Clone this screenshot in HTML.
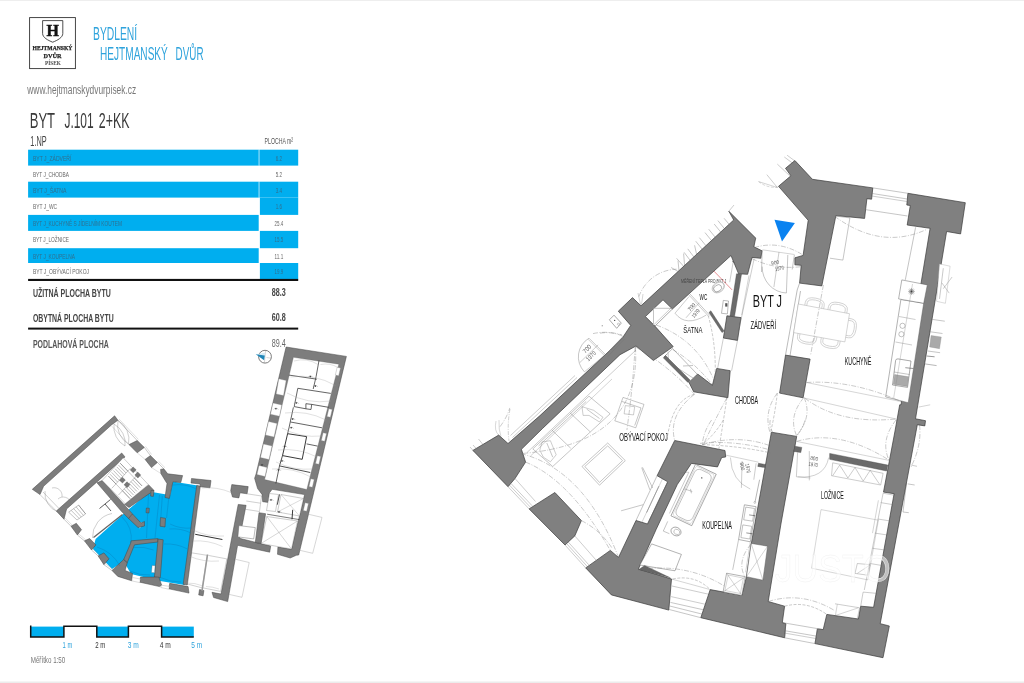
<!DOCTYPE html>
<html lang="cs"><head><meta charset="utf-8"><title>BYT J.101 2+KK – Bydlení Hejtmanský dvůr</title>
<style>
html,body{margin:0;padding:0;background:#fff;}
body{width:1024px;height:683px;overflow:hidden;position:relative;font-family:"Liberation Sans",sans-serif;}
svg{position:absolute;left:0;top:0;display:block;will-change:transform;}
svg text{font-family:"Liberation Sans",sans-serif;}
.serif{font-family:"Liberation Serif",serif !important;}
</style></head><body>
<svg width="1024" height="683" viewBox="0 0 1024 683">
<rect x="0" y="0" width="1024" height="683" fill="#ffffff"/>
<rect x="0" y="0" width="1024" height="1" fill="#eeeeee"/>
<rect x="0" y="681.5" width="1024" height="1.5" fill="#ececec"/>
<g id="logo">
<rect x="29.6" y="17.6" width="45.8" height="51" fill="#fff" stroke="#333" stroke-width="0.9"/>
<path d="M42.6 20.6 H62.8 V33.5 C62.8 37.5 57.5 40.3 52.7 42.2 C47.9 40.3 42.6 37.5 42.6 33.5 Z" fill="#fff" stroke="#222" stroke-width="0.8"/>
<text x="52.7" y="35.7" font-size="17.6" textLength="12.4" lengthAdjust="spacingAndGlyphs" text-anchor="middle" font-weight="bold" fill="#111" class="serif" stroke="#111" stroke-width="0.5">H</text>
<text x="52.5" y="50.4" font-size="6.3" textLength="39.8" lengthAdjust="spacingAndGlyphs" text-anchor="middle" font-weight="bold" fill="#222" class="serif" stroke="#222" stroke-width="0.25">HEJTMANSKÝ</text>
<text x="52.6" y="58.0" font-size="7.0" textLength="18.0" lengthAdjust="spacingAndGlyphs" text-anchor="middle" font-weight="bold" fill="#222" class="serif" stroke="#222" stroke-width="0.25">DVŮR</text>
<text x="53.0" y="64.5" font-size="5.2" textLength="15.8" lengthAdjust="spacingAndGlyphs" text-anchor="middle" font-weight="bold" fill="#444" class="serif">PÍSEK</text>
</g>
<text x="93.0" y="39.8" font-size="17.7" textLength="44.2" lengthAdjust="spacingAndGlyphs" fill="#2ea3dc">BYDLENÍ</text>
<text y="59.8" font-size="17.7" fill="#2ea3dc"><tspan x="100.1" textLength="67.7" lengthAdjust="spacingAndGlyphs">HEJTMANSKÝ</tspan> <tspan x="175.6" textLength="27.9" lengthAdjust="spacingAndGlyphs">DVŮR</tspan></text>
<text x="27.3" y="94.0" font-size="12.1" textLength="108.8" lengthAdjust="spacingAndGlyphs" fill="#777">www.hejtmanskydvurpisek.cz</text>
<text y="127.9" font-size="22.5" fill="#3a3a3a"><tspan x="29.7" textLength="25.1" lengthAdjust="spacingAndGlyphs">BYT</tspan> <tspan x="64.4" textLength="29.3" lengthAdjust="spacingAndGlyphs">J.101</tspan> <tspan x="98.8" textLength="30.6" lengthAdjust="spacingAndGlyphs">2+KK</tspan></text>
<text x="30.3" y="146.2" font-size="14.4" textLength="16.3" lengthAdjust="spacingAndGlyphs" fill="#444">1.NP</text>
<text x="264.6" y="143.6" font-size="8.7" textLength="28.5" lengthAdjust="spacingAndGlyphs" fill="#555">PLOCHA m²</text>
<rect x="28.1" y="149.7" width="230.6" height="15.9" fill="#00aeef"/>
<rect x="259.9" y="149.7" width="38.3" height="15.9" fill="#00aeef"/>
<rect x="258.7" y="149.7" width="1.2" height="15.9" fill="#4fc6f3"/>
<text x="32.9" y="160.8" font-size="7.6" textLength="38.5" lengthAdjust="spacingAndGlyphs" fill="#2f6f8f">BYT J_ZÁDVEŘÍ</text>
<text x="278.9" y="160.8" font-size="7.6" textLength="6.3" lengthAdjust="spacingAndGlyphs" text-anchor="middle" fill="#2f6f8f">6.2</text>
<text x="32.9" y="176.7" font-size="7.6" textLength="36.0" lengthAdjust="spacingAndGlyphs" fill="#666">BYT J_CHODBA</text>
<text x="278.9" y="176.7" font-size="7.6" textLength="6.3" lengthAdjust="spacingAndGlyphs" text-anchor="middle" fill="#666">5.2</text>
<rect x="28.1" y="181.7" width="230.6" height="15.9" fill="#00aeef"/>
<rect x="259.9" y="181.7" width="38.3" height="15.9" fill="#00aeef"/>
<rect x="258.7" y="181.7" width="1.2" height="15.9" fill="#4fc6f3"/>
<text x="32.9" y="192.8" font-size="7.6" textLength="33.6" lengthAdjust="spacingAndGlyphs" fill="#2f6f8f">BYT J_ŠATNA</text>
<text x="278.9" y="192.8" font-size="7.6" textLength="6.3" lengthAdjust="spacingAndGlyphs" text-anchor="middle" fill="#2f6f8f">3.4</text>
<rect x="259.9" y="197.6" width="38.3" height="17.3" fill="#00aeef"/>
<text x="32.9" y="208.7" font-size="7.6" textLength="24.2" lengthAdjust="spacingAndGlyphs" fill="#666">BYT J_WC</text>
<text x="278.9" y="208.7" font-size="7.6" textLength="6.3" lengthAdjust="spacingAndGlyphs" text-anchor="middle" fill="#2f6f8f">1.6</text>
<rect x="28.1" y="214.9" width="230.6" height="16.0" fill="#00aeef"/>
<text x="32.9" y="226.0" font-size="7.6" textLength="89.0" lengthAdjust="spacingAndGlyphs" fill="#2f6f8f">BYT J_KUCHYNĚ S JÍDELNÍM KOUTEM</text>
<text x="278.9" y="226.0" font-size="7.6" textLength="8.6" lengthAdjust="spacingAndGlyphs" text-anchor="middle" fill="#666">25.4</text>
<rect x="259.9" y="230.9" width="38.3" height="17.3" fill="#00aeef"/>
<text x="32.9" y="242.0" font-size="7.6" textLength="36.1" lengthAdjust="spacingAndGlyphs" fill="#666">BYT J_LOŽNICE</text>
<text x="278.9" y="242.0" font-size="7.6" textLength="8.6" lengthAdjust="spacingAndGlyphs" text-anchor="middle" fill="#2f6f8f">15.5</text>
<rect x="28.1" y="248.2" width="230.6" height="14.8" fill="#00aeef"/>
<text x="32.9" y="259.3" font-size="7.6" textLength="42.0" lengthAdjust="spacingAndGlyphs" fill="#2f6f8f">BYT J_KOUPELNA</text>
<text x="278.9" y="259.3" font-size="7.6" textLength="8.6" lengthAdjust="spacingAndGlyphs" text-anchor="middle" fill="#666">11.1</text>
<rect x="259.9" y="263.0" width="38.3" height="16.3" fill="#00aeef"/>
<text x="32.9" y="274.1" font-size="7.6" textLength="56.1" lengthAdjust="spacingAndGlyphs" fill="#666">BYT J_OBÝVACÍ POKOJ</text>
<text x="278.9" y="274.1" font-size="7.6" textLength="8.6" lengthAdjust="spacingAndGlyphs" text-anchor="middle" fill="#2f6f8f">19.9</text>
<rect x="28.1" y="278.9" width="270.1" height="2.1" fill="#111"/>
<rect x="28.1" y="327.6" width="270.1" height="2.0" fill="#111"/>
<text x="32.9" y="297.1" font-size="10.2" textLength="78.0" lengthAdjust="spacingAndGlyphs" font-weight="bold" fill="#444">UŽITNÁ PLOCHA BYTU</text>
<text x="32.9" y="321.7" font-size="10.2" textLength="80.8" lengthAdjust="spacingAndGlyphs" font-weight="bold" fill="#444">OBYTNÁ PLOCHA BYTU</text>
<text x="32.9" y="347.9" font-size="10.2" textLength="75.8" lengthAdjust="spacingAndGlyphs" font-weight="bold" fill="#555">PODLAHOVÁ PLOCHA</text>
<text x="271.8" y="296.4" font-size="10.2" textLength="14.0" lengthAdjust="spacingAndGlyphs" font-weight="bold" fill="#444">88.3</text>
<text x="271.8" y="321.0" font-size="10.2" textLength="14.0" lengthAdjust="spacingAndGlyphs" font-weight="bold" fill="#444">60.8</text>
<text x="271.8" y="347.4" font-size="10.2" textLength="14.0" lengthAdjust="spacingAndGlyphs" fill="#666">89.4</text>
<rect x="30.7" y="626.6" width="33.2" height="10.4" fill="#00aeef"/>
<rect x="96.8" y="626.6" width="31.6" height="10.4" fill="#00aeef"/>
<rect x="161.6" y="626.6" width="32.2" height="10.4" fill="#00aeef"/>
<path d="M30.7 625.6 V637 H63.9 V626.2 H96.8 V637 H128.4 V626.2 H161.6 V637 H193.8" fill="none" stroke="#111" stroke-width="1.5"/>
<text x="62.6" y="648.1" font-size="8.7" textLength="9.7" lengthAdjust="spacingAndGlyphs" fill="#2ea3dc">1 m</text>
<text x="95.2" y="648.1" font-size="8.7" textLength="10.2" lengthAdjust="spacingAndGlyphs" fill="#333">2 m</text>
<text x="127.8" y="648.1" font-size="8.7" textLength="11.0" lengthAdjust="spacingAndGlyphs" fill="#2ea3dc">3 m</text>
<text x="159.8" y="648.1" font-size="8.7" textLength="11.0" lengthAdjust="spacingAndGlyphs" fill="#333">4 m</text>
<text x="191.3" y="648.1" font-size="8.7" textLength="10.9" lengthAdjust="spacingAndGlyphs" fill="#2ea3dc">5 m</text>
<text x="30.7" y="663.1" font-size="8.9" textLength="34.6" lengthAdjust="spacingAndGlyphs" fill="#777">Měřítko 1:50</text>
<g id="mini" stroke-linejoin="miter">
<polygon points="95.6,538.9 124.0,513.5 140.0,528.0 136.0,541.0 126.0,560.0 112.0,569.0 93.0,549.0" fill="#00aeef" stroke="none" stroke-width="0"/>
<polygon points="172.5,481.5 197.5,485.5 184.5,585.0 160.0,581.0 131.0,574.0 123.0,560.0 131.0,541.0 140.0,528.0 144.5,521.0 148.7,493.0 153.5,492.2 165.0,494.3 170.0,495.0" fill="#00aeef" stroke="none" stroke-width="0"/>
<polygon points="128.5,509.5 149.5,492.0 148.8,507.0 144.5,523.0 138.0,522.0" fill="#00aeef" stroke="none" stroke-width="0"/>
<path d="M64.0 519.2 L71.0 526.2" fill="none" stroke="#777" stroke-width="0.4"/>
<path d="M65.2 518.1 L72.2 525.1" fill="none" stroke="#999" stroke-width="0.3"/>
<path d="M77.4 535.0 L84.4 540.8" fill="none" stroke="#777" stroke-width="0.4"/>
<path d="M78.6 533.9 L85.6 539.7" fill="none" stroke="#999" stroke-width="0.3"/>
<path d="M91.5 550.0 L98.1 555.9" fill="none" stroke="#777" stroke-width="0.4"/>
<path d="M92.7 548.9 L99.3 554.8" fill="none" stroke="#999" stroke-width="0.3"/>
<path d="M103.9 564.7 L112.0 570.5" fill="none" stroke="#777" stroke-width="0.4"/>
<path d="M105.1 563.6 L113.2 569.4" fill="none" stroke="#999" stroke-width="0.3"/>
<path d="M117.9 420.2 L137.2 440.5" fill="none" stroke="#777" stroke-width="0.4"/>
<path d="M119.1 419.1 L138.4 439.4" fill="none" stroke="#999" stroke-width="0.3"/>
<path d="M144.3 447.4 L150.4 455.6" fill="none" stroke="#777" stroke-width="0.4"/>
<path d="M145.5 446.3 L151.6 454.5" fill="none" stroke="#999" stroke-width="0.3"/>
<path d="M157.4 462.4 L163.8 468.8" fill="none" stroke="#777" stroke-width="0.4"/>
<path d="M158.6 461.3 L165.0 467.7" fill="none" stroke="#999" stroke-width="0.3"/>
<path d="M111.7 426.1 L129.0 444.6" fill="none" stroke="#999" stroke-width="0.3"/>
<path d="M137.2 452.8 L145.1 459.4" fill="none" stroke="#999" stroke-width="0.3"/>
<path d="M151.5 467.6 L160.9 473.5" fill="none" stroke="#999" stroke-width="0.3"/>
<polygon points="114.6,415.8 117.9,420.2 111.4,425.0 43.6,486.3 40.0,494.6 32.3,489.3" fill="#7d7d7d" stroke="#444" stroke-width="0.5"/>
<polygon points="56.3,511.0 121.7,453.0 125.0,456.9 66.6,509.0 64.0,519.2" fill="#7d7d7d" stroke="#444" stroke-width="0.5"/>
<polygon points="129.0,444.6 137.2,440.5 144.3,447.4 137.2,452.8" fill="#7d7d7d" stroke="#444" stroke-width="0.5"/>
<polygon points="145.1,459.4 150.4,455.6 157.4,462.4 151.5,467.6" fill="#7d7d7d" stroke="#444" stroke-width="0.5"/>
<polygon points="71.0,526.2 76.3,523.3 81.5,529.7 77.4,535.0" fill="#7d7d7d" stroke="#444" stroke-width="0.5"/>
<polygon points="84.4,540.8 89.7,538.5 95.9,544.9 91.5,550.0" fill="#7d7d7d" stroke="#444" stroke-width="0.5"/>
<polygon points="98.1,555.9 103.9,552.9 109.0,558.8 103.9,564.7" fill="#7d7d7d" stroke="#444" stroke-width="0.5"/>
<polygon points="112.0,570.5 123.7,559.5 127.3,562.5 125.1,570.5 132.5,573.4 131.7,580.8 117.8,576.4" fill="#7d7d7d" stroke="#444" stroke-width="0.5"/>
<polygon points="97.0,482.8 102.3,480.5 128.5,509.5 132.5,514.0 128.6,518.5 121.6,511.5" fill="#7d7d7d" stroke="#444" stroke-width="0.5"/>
<polygon points="124.5,504.2 148.7,484.9 154.0,490.4 129.0,507.5" fill="#7d7d7d" stroke="#444" stroke-width="0.5"/>
<polygon points="151.0,490.3 154.0,490.6 153.3,496.4 150.6,496.1" fill="#7d7d7d" stroke="#444" stroke-width="0.5"/>
<path d="M93.5 537.5 L122.5 514.5" fill="none" stroke="#666" stroke-width="1.3"/>
<polygon points="128.6,518.5 132.5,514.0 141.0,523.0 144.5,521.5 144.5,526.0 138.0,527.5" fill="#7d7d7d" stroke="#444" stroke-width="0.5"/>
<polygon points="123.7,559.5 130.5,543.5 131.0,540.8 157.9,538.6 157.9,542.0 134.5,544.8 127.3,562.5" fill="#7d7d7d" stroke="#444" stroke-width="0.5"/>
<polygon points="158.1,539.0 163.2,539.8 160.3,577.8 154.4,577.1" fill="#7d7d7d" stroke="#444" stroke-width="0.5"/>
<rect x="151.8" y="565.5" width="3" height="7" fill="#fff" stroke="#666" stroke-width="0.3" transform="rotate(5 153 569)"/>
<polygon points="160.5,517.5 165.5,518.3 165.0,527.0 160.0,526.2" fill="#7d7d7d" stroke="#444" stroke-width="0.5"/>
<polygon points="146.4,508.0 149.3,508.3 148.9,513.0 146.0,512.7" fill="#7d7d7d" stroke="#444" stroke-width="0.5"/>
<path d="M162.3 496.0 L160.8 518.0" fill="none" stroke="#0a77b5" stroke-width="0.35"/>
<path d="M168.8 497.5 L166.6 518.0" fill="none" stroke="#0a77b5" stroke-width="0.35"/>
<polygon points="160.6,469.4 163.8,468.8 167.7,473.8 182.6,475.6 180.8,482.6 172.9,481.7 169.4,498.4 165.0,497.5 167.0,483.5 160.9,473.5" fill="#7d7d7d" stroke="#444" stroke-width="0.5"/>
<polygon points="191.5,478.5 211.0,480.5 210.0,487.8 200.5,486.8 200.0,484.0 191.0,483.0" fill="#7d7d7d" stroke="#444" stroke-width="0.5"/>
<polygon points="196.7,485.5 200.3,486.0 187.3,585.0 183.2,584.3" fill="#7d7d7d" stroke="#444" stroke-width="0.5"/>
<polygon points="140.5,577.1 158.8,577.1 161.7,585.2 159.5,586.6 139.8,582.2" fill="#7d7d7d" stroke="#444" stroke-width="0.5"/>
<polygon points="169.7,583.3 188.1,586.6 189.0,593.1 168.8,588.8" fill="#7d7d7d" stroke="#444" stroke-width="0.5"/>
<polygon points="199.5,589.6 203.9,590.5 203.1,595.8 198.7,594.9" fill="#7d7d7d" stroke="#444" stroke-width="0.5"/>
<polygon points="212.0,592.3 221.0,594.0 238.2,504.4 246.1,505.3 239.6,538.3 270.7,546.1 269.7,552.2 237.6,545.3 227.7,601.6 213.6,597.5" fill="#7d7d7d" stroke="#444" stroke-width="0.5"/>
<polygon points="132.5,577.5 140.2,579.0 139.8,582.6 131.9,580.9" fill="#fff" stroke="#888" stroke-width="0.3"/>
<polygon points="161.5,585.2 169.3,586.4 168.8,589.2 160.8,587.5" fill="#fff" stroke="#888" stroke-width="0.3"/>
<path d="M190.8 552.7 L207.5 555.4 L202.2 587.9 L185.5 583.5" fill="none" stroke="#777" stroke-width="0.35"/>
<path d="M208.3 555.4 L226.8 558.9 L220.6 591.4 L203.1 587.9" fill="none" stroke="#777" stroke-width="0.35"/>
<path d="M207.5 554.5 L202.0 591.0" fill="none" stroke="#999" stroke-width="1.6"/>
<path d="M195.2 534.3 L222.4 539.5" fill="none" stroke="#333" stroke-width="1.0"/>
<polygon points="231.8,484.6 248.2,486.6 247.1,493.8 240.0,492.8 238.9,497.9 232.5,497.0 230.7,490.7" fill="#7d7d7d" stroke="#444" stroke-width="0.5"/>
<polygon points="286.1,347.0 346.4,356.4 298.7,555.0 296.3,555.3 290.2,558.0 277.5,554.3 277.9,547.1 291.5,549.3 304.6,494.6 272.2,489.3 269.3,493.0 268.6,502.5 262.7,501.7 262.0,494.4 257.6,488.6 254.6,478.3 256.1,473.9" fill="#7d7d7d" stroke="#444" stroke-width="0.5"/>
<polygon points="293.4,357.3 338.8,364.2 306.8,489.5 264.6,479.6" fill="#fff" stroke="#555" stroke-width="0.3"/>
<polygon points="281.0,494.5 303.5,498.5 299.5,516.0 277.5,512.0" fill="#fff" stroke="#555" stroke-width="0.3"/>
<polygon points="269.5,493.5 278.5,494.5 275.5,511.5 266.5,510.5" fill="#fff" stroke="#555" stroke-width="0.3"/>
<polygon points="266.8,516.5 297.5,521.0 291.5,549.0 261.0,543.5" fill="#fff" stroke="#555" stroke-width="0.3"/>
<path d="M266.8 516.5 L291.5 549.0" fill="none" stroke="#777" stroke-width="0.3"/>
<path d="M297.5 521.0 L261.0 543.5" fill="none" stroke="#777" stroke-width="0.3"/>
<path d="M281.0 494.5 L299.5 516.0" fill="none" stroke="#888" stroke-width="0.3"/>
<path d="M303.5 498.5 L277.5 512.0" fill="none" stroke="#888" stroke-width="0.3"/>
<polygon points="259.0,512.7 265.6,513.7 261.0,543.5 255.3,542.5" fill="#7d7d7d" stroke="#444" stroke-width="0.5"/>
<polygon points="238.9,525.6 255.3,527.6 253.7,538.9 237.9,536.9" fill="#fff" stroke="#555" stroke-width="0.4"/>
<polygon points="278.8,378.8 286.1,380.5 283.5,395.6 276.2,393.9" fill="#fff" stroke="#888" stroke-width="0.3"/>
<polygon points="273.0,403.0 281.7,405.0 279.5,416.2 270.5,414.2" fill="#fff" stroke="#888" stroke-width="0.3"/>
<polygon points="268.5,421.5 277.0,423.5 274.0,437.0 265.5,435.0" fill="#fff" stroke="#888" stroke-width="0.3"/>
<polygon points="263.5,444.0 272.0,446.0 269.0,459.5 260.5,457.5" fill="#fff" stroke="#888" stroke-width="0.3"/>
<polygon points="259.0,465.5 267.0,467.5 265.0,476.5 257.0,474.5" fill="#fff" stroke="#888" stroke-width="0.3"/>
<rect x="336.2" y="367.5" width="3.4" height="8" fill="#fff" stroke="#888" stroke-width="0.3" transform="rotate(13 337.8 371.5)"/>
<rect x="327.9" y="409" width="3.4" height="8" fill="#fff" stroke="#888" stroke-width="0.3" transform="rotate(13 329.5 413)"/>
<rect x="322.2" y="433" width="3.4" height="8" fill="#fff" stroke="#888" stroke-width="0.3" transform="rotate(13 323.8 437)"/>
<rect x="316.4" y="456" width="3.4" height="8" fill="#fff" stroke="#888" stroke-width="0.3" transform="rotate(13 318 460)"/>
<rect x="309.9" y="479" width="3.4" height="8" fill="#fff" stroke="#888" stroke-width="0.3" transform="rotate(13 311.5 483)"/>
<rect x="304.2" y="503" width="3.4" height="8" fill="#fff" stroke="#888" stroke-width="0.3" transform="rotate(13 305.8 507)"/>
<path d="M319.0 360.5 L316.1 376.6 L313.2 389.0" fill="none" stroke="#222" stroke-width="0.7"/>
<path d="M289.0 375.1 L316.9 379.2" fill="none" stroke="#222" stroke-width="0.7"/>
<path d="M330.8 393.4 L297.8 388.3 L294.2 406.6 L305.9 408.8 L305.9 403.7 L311.7 404.4 L311.0 409.5 L305.9 408.8" fill="none" stroke="#222" stroke-width="0.7"/>
<path d="M311.7 404.4 L328.6 407.3" fill="none" stroke="#222" stroke-width="0.7"/>
<path d="M293.4 407.3 L289.0 427.8 L287.6 433.7" fill="none" stroke="#222" stroke-width="0.7"/>
<path d="M290.5 422.0 L322.0 427.8" fill="none" stroke="#222" stroke-width="0.7"/>
<path d="M287.6 433.7 L306.6 436.6 L302.2 459.3 L282.5 455.6 L287.6 433.7" fill="none" stroke="#222" stroke-width="0.9"/>
<path d="M306.6 443.9 L317.6 446.1" fill="none" stroke="#222" stroke-width="0.7"/>
<path d="M282.5 455.6 L279.5 465.9 L310.3 472.5" fill="none" stroke="#222" stroke-width="0.8"/>
<path d="M279.5 465.9 L275.9 483.4" fill="none" stroke="#222" stroke-width="0.7"/>
<path d="M279.5 494.4 L277.3 504.7" fill="none" stroke="#222" stroke-width="0.8"/>
<path d="M292.7 509.8 L292.0 519.3" fill="none" stroke="#222" stroke-width="0.9"/>
<path d="M267.1 514.2 L299.3 519.6" fill="none" stroke="#222" stroke-width="0.6"/>
<path d="M308.1 377.2 A2.6 2.6 0 0 1 312.7 377.4" fill="none" stroke="#555" stroke-width="0.3"/><circle cx="310.3" cy="376.6" r="0.8" fill="#333"/>
<path d="M313.2 386.7 A2.6 2.6 0 0 1 317.8 386.9" fill="none" stroke="#555" stroke-width="0.3"/><circle cx="315.4" cy="386.1" r="0.8" fill="#333"/>
<path d="M294.2 403.6 A2.6 2.6 0 0 1 298.8 403.8" fill="none" stroke="#555" stroke-width="0.3"/><circle cx="296.4" cy="403.0" r="0.8" fill="#333"/>
<path d="M273.7 409.4 A2.6 2.6 0 0 1 278.3 409.6" fill="none" stroke="#555" stroke-width="0.3"/><circle cx="275.9" cy="408.8" r="0.8" fill="#333"/>
<path d="M290.5 419.7 A2.6 2.6 0 0 1 295.1 419.9" fill="none" stroke="#555" stroke-width="0.3"/><circle cx="292.7" cy="419.1" r="0.8" fill="#333"/>
<path d="M289.0 428.4 A2.6 2.6 0 0 1 293.6 428.6" fill="none" stroke="#555" stroke-width="0.3"/><circle cx="291.2" cy="427.8" r="0.8" fill="#333"/>
<path d="M282.5 447.1 A2.6 2.6 0 0 1 287.1 447.3" fill="none" stroke="#555" stroke-width="0.3"/><circle cx="284.7" cy="446.5" r="0.8" fill="#333"/>
<path d="M279.8 461.6 A2.6 2.6 0 0 1 284.4 461.8" fill="none" stroke="#555" stroke-width="0.3"/><circle cx="282.0" cy="461.0" r="0.8" fill="#333"/>
<path d="M276.3 470.6 A2.6 2.6 0 0 1 280.9 470.8" fill="none" stroke="#555" stroke-width="0.3"/><circle cx="278.5" cy="470.0" r="0.8" fill="#333"/>
<path d="M268.8 500.6 A2.6 2.6 0 0 1 273.4 500.8" fill="none" stroke="#555" stroke-width="0.3"/><circle cx="271.0" cy="500.0" r="0.8" fill="#333"/>
<path d="M276.8 512.6 A2.6 2.6 0 0 1 281.4 512.8" fill="none" stroke="#555" stroke-width="0.3"/><circle cx="279.0" cy="512.0" r="0.8" fill="#333"/>
<path d="M259.8 465.6 A2.6 2.6 0 0 1 264.4 465.8" fill="none" stroke="#555" stroke-width="0.3"/><circle cx="262.0" cy="465.0" r="0.8" fill="#333"/>
<path d="M247.1 493.8 L261.5 496.0 L259.5 511.5 L245.5 509.3" fill="none" stroke="#777" stroke-width="0.35"/>
<path d="M246.3 501.0 L260.5 503.2" fill="none" stroke="#777" stroke-width="0.35"/>
<path d="M308.6 514.3 L322.0 517.4 L312.7 553.3 L299.4 550.2" fill="none" stroke="#999" stroke-width="0.4"/>
<path d="M235.9 559.4 L249.2 562.5 L242.0 597.3 L228.7 594.3" fill="none" stroke="#999" stroke-width="0.4"/>
<polygon points="102.2,480.4 123.2,457.8 148.3,484.6 125.2,503.7" fill="#fff" stroke="#555" stroke-width="0.3"/>
<path d="M108.3 476.0 L115.9 483.9" fill="none" stroke="#444" stroke-width="0.35"/>
<path d="M122.5 490.8 L130.1 498.7" fill="none" stroke="#444" stroke-width="0.35"/>
<path d="M110.0 474.2 L117.6 482.1" fill="none" stroke="#444" stroke-width="0.35"/>
<path d="M124.2 488.9 L131.8 496.9" fill="none" stroke="#444" stroke-width="0.35"/>
<path d="M111.7 472.4 L119.3 480.3" fill="none" stroke="#444" stroke-width="0.35"/>
<path d="M125.9 487.1 L133.5 495.0" fill="none" stroke="#444" stroke-width="0.35"/>
<path d="M113.4 470.5 L121.0 478.4" fill="none" stroke="#444" stroke-width="0.35"/>
<path d="M127.6 485.3 L135.2 493.2" fill="none" stroke="#444" stroke-width="0.35"/>
<path d="M115.1 468.7 L122.7 476.6" fill="none" stroke="#444" stroke-width="0.35"/>
<path d="M129.3 483.5 L136.9 491.4" fill="none" stroke="#444" stroke-width="0.35"/>
<path d="M116.8 466.9 L124.4 474.8" fill="none" stroke="#444" stroke-width="0.35"/>
<path d="M131.0 481.6 L138.6 489.6" fill="none" stroke="#444" stroke-width="0.35"/>
<path d="M118.5 465.1 L126.1 473.0" fill="none" stroke="#444" stroke-width="0.35"/>
<path d="M132.7 479.8 L140.3 487.7" fill="none" stroke="#444" stroke-width="0.35"/>
<path d="M120.2 463.2 L127.8 471.1" fill="none" stroke="#444" stroke-width="0.35"/>
<path d="M134.4 478.0 L142.0 485.9" fill="none" stroke="#444" stroke-width="0.35"/>
<path d="M108.3 476.0 L130.1 498.7" fill="none" stroke="#444" stroke-width="0.3"/>
<path d="M120.2 463.2 L142.0 485.9" fill="none" stroke="#444" stroke-width="0.3"/>
<path d="M111.8 488.3 L130.5 468.2" fill="none" stroke="#444" stroke-width="0.3"/>
<path d="M118.4 495.1 L137.1 475.1" fill="none" stroke="#444" stroke-width="0.3"/>
<rect x="131.1" y="467.79999999999995" width="4.2" height="4.2" fill="#777" stroke="#444" stroke-width="0.3" transform="rotate(43 133.2 469.9)"/>
<rect x="135.70000000000002" y="472.9" width="4.2" height="4.2" fill="#777" stroke="#444" stroke-width="0.3" transform="rotate(43 137.8 475)"/>
<rect x="120.30000000000001" y="478.0" width="4.2" height="4.2" fill="#777" stroke="#444" stroke-width="0.3" transform="rotate(43 122.4 480.1)"/>
<rect x="124.9" y="482.59999999999997" width="4.2" height="4.2" fill="#777" stroke="#444" stroke-width="0.3" transform="rotate(43 127 484.7)"/>
<path d="M68.7 512.2 L77.0 520.0" fill="none" stroke="#555" stroke-width="0.35"/>
<path d="M71.2 510.4 L79.2 518.5" fill="none" stroke="#555" stroke-width="0.35"/>
<path d="M73.7 508.7 L81.3 517.0" fill="none" stroke="#555" stroke-width="0.35"/>
<path d="M76.1 506.9 L83.4 515.4" fill="none" stroke="#555" stroke-width="0.35"/>
<path d="M78.6 505.1 L85.6 513.9" fill="none" stroke="#555" stroke-width="0.35"/>
<path d="M68.7 512.2 L78.6 505.1 L85.6 513.9 L77.0 520.0" fill="none" stroke="#555" stroke-width="0.35"/>
<path d="M99.5 508.5 L110.5 499.5" fill="none" stroke="#333" stroke-width="0.8"/>
<path d="M105.0 504.0 L111.0 511.0" fill="none" stroke="#333" stroke-width="0.8"/>
<path d="M92.5 538.0 A24 24 0 0 1 112.0 513.5" fill="none" stroke="#777" stroke-width="0.35"/>
<path d="M118.0 420.5 A22 22 0 0 1 128.5 444.0" fill="none" stroke="#777" stroke-width="0.35"/>
<path d="M118.0 420.5 A22 22 0 0 0 128.5 444.0" fill="none" stroke="#777" stroke-width="0.35"/>
<path d="M114.0 424.0 A22 22 0 0 1 125.0 446.0" fill="none" stroke="#777" stroke-width="0.35"/>
<path d="M114.0 424.0 A22 22 0 0 0 125.0 446.0" fill="none" stroke="#777" stroke-width="0.35"/>
<path d="M45.0 491.0 A20 20 0 0 0 58.0 512.0" fill="none" stroke="#777" stroke-width="0.35"/>
<path d="M52.0 488.0 A8 8 0 0 1 62.0 497.0" fill="none" stroke="#777" stroke-width="0.35"/>
<path d="M58.0 499.0 A8 8 0 0 1 71.0 503.0" fill="none" stroke="#777" stroke-width="0.35"/>
<path d="M40.0 494.6 L56.3 511.0" fill="none" stroke="#888" stroke-width="0.4"/>
<path d="M43.0 492.0 L59.0 508.5" fill="none" stroke="#888" stroke-width="0.4"/>
<path d="M173.0 485.0 A40 40 0 0 1 195.5 488.5" fill="none" stroke="#0a77b5" stroke-width="0.35"/>
<path d="M170.0 524.0 A40 40 0 0 0 192.0 528.0" fill="none" stroke="#0a77b5" stroke-width="0.35"/>
<path d="M169.5 529.0 A40 40 0 0 1 191.0 533.0" fill="none" stroke="#0a77b5" stroke-width="0.35"/>
<path d="M164.0 544.0 A45 45 0 0 1 187.5 549.0" fill="none" stroke="#0a77b5" stroke-width="0.35"/>
<path d="M160.5 577.5 A45 45 0 0 0 181.0 582.0" fill="none" stroke="#0a77b5" stroke-width="0.35"/>
<path d="M134.0 547.5 A40 40 0 0 1 153.5 550.0" fill="none" stroke="#0a77b5" stroke-width="0.35"/>
<path d="M130.0 571.0 A40 40 0 0 0 150.0 575.0" fill="none" stroke="#0a77b5" stroke-width="0.35"/>
<path d="M97.0 547.0 A40 40 0 0 1 120.0 566.0" fill="none" stroke="#0a77b5" stroke-width="0.35"/>
<path d="M122.0 517.0 A30 30 0 0 1 131.0 543.0" fill="none" stroke="#0a77b5" stroke-width="0.35"/>
<path d="M148.5 494.0 L146.5 538.0" fill="none" stroke="#0a77b5" stroke-width="0.35"/>
<path d="M159.5 495.0 L155.0 538.0" fill="none" stroke="#0a77b5" stroke-width="0.35"/>
<path d="M294.0 361.0 A30 30 0 0 1 318.0 364.5" fill="none" stroke="#999" stroke-width="0.3"/>
<path d="M320.5 364.5 A25 25 0 0 1 338.0 367.5" fill="none" stroke="#999" stroke-width="0.3"/>
<path d="M290.5 377.0 A70 70 0 0 1 335.5 385.5" fill="none" stroke="#999" stroke-width="0.3"/>
<path d="M287.0 393.0 A70 70 0 0 0 331.0 401.0" fill="none" stroke="#999" stroke-width="0.3"/>
<path d="M285.0 413.0 A70 70 0 0 1 326.0 420.0" fill="none" stroke="#999" stroke-width="0.3"/>
<path d="M282.0 428.0 A70 70 0 0 0 322.0 436.0" fill="none" stroke="#999" stroke-width="0.3"/>
<path d="M278.0 450.0 A70 70 0 0 1 317.0 457.0" fill="none" stroke="#999" stroke-width="0.3"/>
<path d="M276.0 462.0 A70 70 0 0 0 313.0 469.0" fill="none" stroke="#999" stroke-width="0.3"/>
<path d="M272.0 469.0 A70 70 0 0 1 311.0 477.0" fill="none" stroke="#999" stroke-width="0.3"/>
<path d="M202.0 488.0 A60 60 0 0 1 231.0 492.5" fill="none" stroke="#999" stroke-width="0.3"/>
<path d="M193.0 530.0 A60 60 0 0 0 224.0 536.0" fill="none" stroke="#999" stroke-width="0.3"/>
<path d="M192.5 541.0 A60 60 0 0 1 222.5 546.5" fill="none" stroke="#999" stroke-width="0.3"/>
<path d="M189.0 556.0 A60 60 0 0 0 219.0 561.0" fill="none" stroke="#999" stroke-width="0.3"/>
<path d="M186.5 583.0 A40 40 0 0 1 203.0 586.0" fill="none" stroke="#999" stroke-width="0.3"/>
<path d="M206.0 586.5 A40 40 0 0 1 219.0 589.0" fill="none" stroke="#999" stroke-width="0.3"/>
</g>
<g id="compass">
<circle cx="265" cy="356.7" r="6.4" fill="#fff" stroke="#5a5a5a" stroke-width="0.8"/>
<path d="M265.6 350.5 L264.4 363.0" fill="none" stroke="#999" stroke-width="0.4"/>
<path d="M266.5 357.5 L271.2 358.2" fill="none" stroke="#999" stroke-width="0.4"/>
<path d="M255.7 354.3 L264.9 352.8 L264.8 355.6 Z" fill="#d5ebf6"/>
<path d="M255.7 354.3 L264.8 355.4 L264.1 360.2 Z" fill="#1f86b8"/>
</g>
<g id="main">
<polygon points="728.9,211.3 755.7,238.1 753.9,246.8 762.0,250.8 760.8,258.3 752.0,257.4 747.6,274.3 738.6,273.8 731.0,255.5 672.4,309.0 663.0,299.8 645.4,316.6 654.9,326.1 673.2,346.6 653.4,360.5 636.0,346.0 620.0,354.7 542.3,428.7 521.4,449.3 525.6,462.1 515.0,478.5 508.0,486.7 472.9,450.4 498.7,435.1 508.0,443.5 540.0,415.6 610.3,350.0 622.7,337.5 630.7,325.4 618.3,311.2 632.5,297.6 641.0,305.8 733.7,220.0" fill="#808080" stroke="#3a3a3a" stroke-width="0.7"/>
<polygon points="529.1,508.9 554.9,492.5 581.4,520.6 574.8,535.9 565.0,545.0" fill="#808080" stroke="#3a3a3a" stroke-width="0.7"/>
<polygon points="585.7,567.9 610.3,550.4 618.5,557.4 636.0,520.5 647.5,524.0 667.7,481.8 657.1,475.7 674.7,440.5 725.0,450.5 725.7,457.0 721.7,457.5 717.5,466.9 691.4,463.4 677.3,484.5 656.2,529.3 638.4,569.1 671.5,579.0 668.8,610.1 611.4,594.9" fill="#808080" stroke="#3a3a3a" stroke-width="0.7"/>
<path d="M657.1 475.7 L636.0 520.5" fill="none" stroke="#6a6a6a" stroke-width="0.4"/>
<polygon points="700.8,617.7 710.2,589.6 741.8,595.4 746.5,576.7 751.4,543.0 771.4,432.2 796.7,436.4 781.1,523.0 768.2,601.5 784.6,606.2 782.3,622.6 785.8,623.7 784.6,637.8" fill="#808080" stroke="#3a3a3a" stroke-width="0.7"/>
<polygon points="751.2,543.4 767.6,546.2 762.9,580.2 746.5,576.7" fill="#fff" stroke="#555" stroke-width="0.45"/>
<polygon points="815.0,643.6 817.4,628.9 823.2,629.6 826.8,614.4 858.4,619.0 860.7,606.2 873.6,607.3 894.1,493.7 883.5,492.1 895.2,430.0 899.7,404.8 901.0,404.8 930.1,228.3 907.2,225.0 910.3,205.5 906.8,205.0 907.9,193.3 965.3,202.7 960.6,233.9 946.6,231.5 915.5,418.8 925.5,420.7 924.8,425.9 917.3,424.7 880.2,623.7 889.3,626.1 883.0,657.7" fill="#808080" stroke="#3a3a3a" stroke-width="0.7"/>
<polygon points="778.5,186.3 790.9,175.8 785.5,168.3 794.9,160.5 812.4,179.3 872.8,187.9 871.6,199.2 866.9,198.7 864.6,218.4 835.9,215.6 821.8,285.9 799.6,283.1 801.2,265.3 794.9,264.8 794.9,257.8 803.1,255.4 808.2,220.3" fill="#808080" stroke="#3a3a3a" stroke-width="0.7"/>
<polygon points="726.9,315.8 741.0,317.6 737.5,340.4 723.4,338.0" fill="#808080" stroke="#3a3a3a" stroke-width="0.7"/>
<polygon points="687.8,380.1 697.9,374.2 712.4,385.3 716.7,368.4 730.2,370.7 727.9,397.7 693.7,391.8" fill="#808080" stroke="#3a3a3a" stroke-width="0.7"/>
<polygon points="736.5,273.8 741.5,274.2 734.5,316.5 730.0,316.0" fill="#6b6b6b" stroke="#444" stroke-width="0.4"/>
<polygon points="664.5,356.5 667.0,354.5 690.0,379.0 687.5,381.0" fill="#6b6b6b" stroke="#444" stroke-width="0.4"/>
<polygon points="709.0,312.5 710.8,310.8 724.0,331.0 722.0,332.5" fill="#6b6b6b" stroke="#444" stroke-width="0.4"/>
<polygon points="785.5,355.1 810.1,359.1 803.1,397.8 779.6,393.1" fill="#808080" stroke="#3a3a3a" stroke-width="0.7"/>
<path d="M785.5 355.1 L797.2 290.0 L799.6 283.1" fill="none" stroke="#6a6a6a" stroke-width="0.45"/>
<path d="M790.0 355.8 L800.5 291.0" fill="none" stroke="#6a6a6a" stroke-width="0.45"/>
<polygon points="829.7,453.4 887.8,465.1 886.6,471.0 829.7,459.3" fill="#6b6b6b" stroke="#444" stroke-width="0.4"/>
<polygon points="794.8,446.2 801.8,447.4 800.8,452.6 793.8,451.4" fill="#6b6b6b" stroke="#444" stroke-width="0.4"/>
<polygon points="758.5,463.3 765.5,464.5 764.8,467.6 757.8,466.4" fill="#6b6b6b" stroke="#444" stroke-width="0.4"/>
<polygon points="900.9,299.5 923.7,303.3 908.2,402.7 885.7,396.9" fill="#fff" stroke="#555" stroke-width="0.45"/>
<polygon points="901.8,279.9 927.3,284.9 923.7,303.3 898.6,298.9" fill="#fff" stroke="#555" stroke-width="0.45"/>
<path d="M915.6 227.3 L905.3 279.9" fill="none" stroke="#6a6a6a" stroke-width="0.4"/>
<polygon points="774.5,219.8 794.9,223.1 782.0,241.4" fill="#0a82f0" stroke="none" stroke-width="0"/>
<text x="752.7" y="306.5" font-size="16.7" textLength="29.3" lengthAdjust="spacingAndGlyphs" fill="#111">BYT J</text>
<text x="750.4" y="328.7" font-size="10.5" textLength="25.7" lengthAdjust="spacingAndGlyphs" fill="#111">ZÁDVEŘÍ</text>
<text x="735.1" y="403.6" font-size="10.5" textLength="23.0" lengthAdjust="spacingAndGlyphs" fill="#111">CHODBA</text>
<text x="844.7" y="364.6" font-size="10.5" textLength="26.6" lengthAdjust="spacingAndGlyphs" fill="#111">KUCHYNĚ</text>
<text x="821.0" y="498.6" font-size="10.5" textLength="22.7" lengthAdjust="spacingAndGlyphs" fill="#111">LOŽNICE</text>
<text x="702.3" y="528.9" font-size="10.5" textLength="29.7" lengthAdjust="spacingAndGlyphs" fill="#111">KOUPELNA</text>
<text x="619.3" y="440.9" font-size="10.5" textLength="48.4" lengthAdjust="spacingAndGlyphs" fill="#111">OBÝVACÍ POKOJ</text>
<text x="683.2" y="332.8" font-size="9.6" textLength="19.4" lengthAdjust="spacingAndGlyphs" fill="#111">ŠATNA</text>
<text x="699.6" y="300.0" font-size="9.6" textLength="7.7" lengthAdjust="spacingAndGlyphs" fill="#111">WC</text>
<text x="681.1" y="282.8" font-size="6.0" textLength="45.1" lengthAdjust="spacingAndGlyphs" fill="#444">MĚŘENÍ TEPLA PRO BYT J</text>
<path d="M589.0 396.2 L610.1 413.8 L552.7 466.5 L532.8 448.9 Z" fill="none" stroke="#6f6f6f" stroke-width="0.4"/>
<path d="M586.2 401.4 L538.6 445.9" fill="none" stroke="#6f6f6f" stroke-width="0.4"/>
<path d="M570.3 413.1 L590.2 431.8" fill="none" stroke="#6f6f6f" stroke-width="0.4"/>
<path d="M552.0 430.2 L570.7 448.2" fill="none" stroke="#6f6f6f" stroke-width="0.4"/>
<path d="M582.0 406.7 L593.7 410.3 L603.0 417.3 L599.5 422.0 L589.0 415.4 L583.1 415.4 Z" fill="none" stroke="#6f6f6f" stroke-width="0.35"/>
<path d="M542.2 441.9 L550.4 440.7 L556.2 454.8 L550.4 461.8 L543.3 457.1 L539.8 450.1 Z" fill="none" stroke="#6f6f6f" stroke-width="0.35"/>
<path d="M546.8 443.0 L552.7 457.1" fill="none" stroke="#6f6f6f" stroke-width="0.4"/>
<path d="M586.7 409.1 L599.5 418.5" fill="none" stroke="#6f6f6f" stroke-width="0.4"/>
<path d="M623.0 397.4 L644.0 404.4 L635.8 427.8 L614.8 420.8 Z" fill="none" stroke="#6f6f6f" stroke-width="0.4"/>
<path d="M621.8 401.4 L641.0 407.9 L634.7 425.5" fill="none" stroke="#6f6f6f" stroke-width="0.4"/>
<path d="M625.3 405.6 L634.7 406.7 L633.5 414.9 L624.1 413.8 Z" fill="none" stroke="#6f6f6f" stroke-width="0.35"/>
<path d="M607.7 443.0 L625.3 460.6 L599.5 485.2 L582.0 466.5 Z" fill="none" stroke="#6f6f6f" stroke-width="0.4"/>
<path d="M607.7 445.9 L622.5 460.6 L599.5 482.4 L584.8 466.5 Z" fill="none" stroke="#6f6f6f" stroke-width="0.4"/>
<path d="M635.4 347.0 Q641.8 443.7 521.0 453.6" fill="none" stroke="#7a7a7a" stroke-width="0.4" stroke-dasharray="5 1.5 1 1.5"/>
<path d="M635.4 347.0 Q668.0 365.0 694.4 394.3" fill="none" stroke="#7a7a7a" stroke-width="0.4" stroke-dasharray="5 1.5 1 1.5"/>
<path d="M694.4 394.3 Q668.0 415.0 674.7 440.5" fill="none" stroke="#7a7a7a" stroke-width="0.4" stroke-dasharray="5 1.5 1 1.5"/>
<path d="M521.0 453.6 Q585.0 470.0 618.5 557.4" fill="none" stroke="#7a7a7a" stroke-width="0.4" stroke-dasharray="5 1.5 1 1.5"/>
<path d="M694.4 394.3 Q672.0 400.0 667.0 440.0" fill="none" stroke="#7a7a7a" stroke-width="0.4" stroke-dasharray="3 1.5"/>
<path d="M525.6 462.1 Q570.0 480.0 610.3 550.4" fill="none" stroke="#7a7a7a" stroke-width="0.4" stroke-dasharray="5 1.5 1 1.5"/>
<path d="M581.4 520.6 Q600.0 530.0 612.0 548.0" fill="none" stroke="#7a7a7a" stroke-width="0.4" stroke-dasharray="5 1.5 1 1.5"/>
<path d="M641.7 467.6 L649.9 489.9" fill="none" stroke="#6f6f6f" stroke-width="0.4"/>
<path d="M500.0 426.7 Q507.0 417.3 509.8 407.9" fill="none" stroke="#7a7a7a" stroke-width="0.4" stroke-dasharray="5 1.5 1 1.5"/>
<path d="M589.0 338.2 L605.5 354.7" fill="none" stroke="#6f6f6f" stroke-width="0.4"/>
<path d="M588.0 339.2 L604.5 355.7" fill="none" stroke="#6f6f6f" stroke-width="0.3"/>
<path d="M579.8 362.6 L598.2 344.8" fill="none" stroke="#6f6f6f" stroke-width="0.35"/>
<path d="M584.4 371.8 L605.5 354.7" fill="none" stroke="#6f6f6f" stroke-width="0.35"/>
<path d="M584.4 371.8 A21.6 21.6 0 0 1 589 338.2" fill="none" stroke="#6f6f6f" stroke-width="0.4"/>
<text x="588.5" y="350.3" font-size="6.2" textLength="9.5" lengthAdjust="spacingAndGlyphs" fill="#555" text-anchor="middle" transform="rotate(-45 588.5 350.3)">700</text>
<text x="592.5" y="357.5" font-size="6.2" textLength="11.0" lengthAdjust="spacingAndGlyphs" fill="#555" text-anchor="middle" transform="rotate(-45 592.5 357.5)">1970</text>
<path d="M593.0 333.6 Q607.0 330.5 621.9 334.9" fill="none" stroke="#7a7a7a" stroke-width="0.4" stroke-dasharray="5 1.5 1 1.5"/>
<path d="M605.5 354.7 L623.2 336.2" fill="none" stroke="#6f6f6f" stroke-width="0.35"/>
<path d="M607.5 356.7 L624.5 339.0" fill="none" stroke="#6f6f6f" stroke-width="0.3"/>
<circle cx="602.2" cy="325.7" r="0.5" fill="#555"/>
<path d="M512.5 437.5 L577.0 377.5" fill="none" stroke="#6f6f6f" stroke-width="0.35"/>
<path d="M510.5 435.5 L575.0 375.5" fill="none" stroke="#6f6f6f" stroke-width="0.35"/>
<path d="M527.0 452.5 L636.0 350.0" fill="none" stroke="#6f6f6f" stroke-width="0.35"/>
<path d="M530.5 456.0 L612.0 379.0" fill="none" stroke="#6f6f6f" stroke-width="0.3"/>
<path d="M508.0 486.7 L529.1 508.9" fill="none" stroke="#6f6f6f" stroke-width="0.35"/>
<path d="M565.0 545.0 L585.7 567.9" fill="none" stroke="#6f6f6f" stroke-width="0.35"/>
<path d="M509.5 485.2 L530.6 507.4" fill="none" stroke="#6f6f6f" stroke-width="0.35"/>
<path d="M566.5 543.5 L587.2 566.4" fill="none" stroke="#6f6f6f" stroke-width="0.35"/>
<path d="M511.1 483.6 L532.2 505.8" fill="none" stroke="#6f6f6f" stroke-width="0.35"/>
<path d="M568.1 541.9 L588.8 564.8" fill="none" stroke="#6f6f6f" stroke-width="0.35"/>
<path d="M515.0 478.5 L535.5 501.5" fill="none" stroke="#6f6f6f" stroke-width="0.35"/>
<path d="M574.8 535.9 L596.0 560.0" fill="none" stroke="#6f6f6f" stroke-width="0.35"/>
<path d="M470.0 447.0 L474.5 452.0" fill="none" stroke="#6f6f6f" stroke-width="0.35"/>
<path d="M473.0 445.0 L477.0 449.5" fill="none" stroke="#6f6f6f" stroke-width="0.35"/>
<path d="M478.5 439.0 L482.5 444.0" fill="none" stroke="#6f6f6f" stroke-width="0.35"/>
<path d="M496.0 421.0 Q494.0 431.0 498.7 435.1" fill="none" stroke="#7a7a7a" stroke-width="0.3"/>
<path d="M499.0 420.0 Q498.5 430.0 501.0 436.5" fill="none" stroke="#7a7a7a" stroke-width="0.3"/>
<path d="M510.0 409.0 Q507.0 425.0 509.0 441.0" fill="none" stroke="#7a7a7a" stroke-width="0.35" stroke-dasharray="4 1.2 1 1.2"/>
<path d="M653.5 309.0 L653.5 325.0" fill="none" stroke="#bdbdbd" stroke-width="0.9"/>
<path d="M653.5 308.3 L671.0 308.3" fill="none" stroke="#bdbdbd" stroke-width="0.9"/>
<path d="M672.4 309.0 L654.9 326.1" fill="none" stroke="#444" stroke-width="0.45"/>
<path d="M671.2 307.8 L653.7 324.9" fill="none" stroke="#6f6f6f" stroke-width="0.35"/>
<polygon points="664.4,356.7 672.6,348.5 697.2,374.2 689.0,382.0" fill="#fff" stroke="#555" stroke-width="0.4"/>
<path d="M668.0 351.5 L668.5 362.0 L693.0 378.0" fill="none" stroke="#bdbdbd" stroke-width="0.9"/>
<path d="M683.0 366.0 L693.0 365.5" fill="none" stroke="#bdbdbd" stroke-width="0.9"/>
<polygon points="663.3,357.8 665.6,355.6 690.2,380.2 687.9,382.4" fill="#6b6b6b" stroke="#444" stroke-width="0.4"/>
<path d="M690.0 294.0 L710.0 315.6" fill="none" stroke="#6f6f6f" stroke-width="0.4"/>
<path d="M688.9 295.0 L708.9 316.6" fill="none" stroke="#6f6f6f" stroke-width="0.35"/>
<path d="M689.1 296.5 L675.0 313.2" fill="none" stroke="#6f6f6f" stroke-width="0.35"/>
<path d="M699.2 302.8 L686.0 317.8" fill="none" stroke="#6f6f6f" stroke-width="0.35"/>
<path d="M701.8 305.0 L683.8 321.3" fill="none" stroke="#6f6f6f" stroke-width="0.0"/>
<path d="M675.0 313.2 Q686.0 327.5 706.2 315.1" fill="none" stroke="#7a7a7a" stroke-width="0.4"/>
<text x="693.0" y="308.3" font-size="5.4" textLength="8.5" lengthAdjust="spacingAndGlyphs" fill="#555" text-anchor="middle" transform="rotate(-49 693.0 308.3)">700</text>
<text x="697.0" y="314.6" font-size="5.4" textLength="9.5" lengthAdjust="spacingAndGlyphs" fill="#555" text-anchor="middle" transform="rotate(-49 697.0 314.6)">1970</text>
<path d="M656.2 325.0 Q698.4 340.3 714.8 382.4" fill="none" stroke="#7a7a7a" stroke-width="0.4" stroke-dasharray="5 1.5 1 1.5"/>
<path d="M672.6 349.6 Q693.7 361.4 712.4 384.8" fill="none" stroke="#7a7a7a" stroke-width="0.4" stroke-dasharray="5 1.5 1 1.5"/>
<path d="M708.2 315.7 Q717.1 347.3 714.8 382.4" fill="none" stroke="#7a7a7a" stroke-width="0.4" stroke-dasharray="3 1.5"/>
<path d="M635.1 347.3 Q632.8 387.1 626.9 430.0" fill="none" stroke="#7a7a7a" stroke-width="0.4" stroke-dasharray="5 1.5 1 1.5"/>
<path d="M600.0 333.2 Q614.1 330.9 625.8 337.9" fill="none" stroke="#7a7a7a" stroke-width="0.4" stroke-dasharray="5 1.5 1 1.5"/>
<ellipse cx="718.3" cy="287.3" rx="6.6" ry="5.0" fill="#fff" stroke="#888" stroke-width="0.45" transform="rotate(-35 718.3 287.3)"/>
<ellipse cx="717.6" cy="288.3" rx="4.3" ry="3.2" fill="none" stroke="#777" stroke-width="0.5" transform="rotate(-35 717.6 288.3)"/>
<ellipse cx="718.6" cy="287.0" rx="5.6" ry="4.2" fill="none" stroke="#999" stroke-width="0.35" transform="rotate(-35 718.6 287.0)"/>
<path d="M713.9 271.1 L732.1 289.9" fill="none" stroke="#d2232a" stroke-width="0.5"/>
<path d="M733.2 261.8 L729.7 282.2" fill="none" stroke="#6f6f6f" stroke-width="0.35"/>
<path d="M732.0 261.0 L734.2 262.6" fill="none" stroke="#333" stroke-width="0.5"/>
<polygon points="723.3,300.4 728.5,301.0 727.4,313.9 721.5,313.3" fill="#fff" stroke="#555" stroke-width="0.4"/>
<rect x="725.2" y="303.2" width="2.2" height="3.4" fill="#555"/>
<polygon points="609.4,319.8 614.0,315.2 621.3,323.1 616.7,328.3" fill="#fff" stroke="#444" stroke-width="0.45"/>
<circle cx="614.7" cy="320.4" r="0.6" fill="#333"/><rect x="617.6" y="323.2" width="1.8" height="1.8" fill="none" stroke="#444" stroke-width="0.3" transform="rotate(45 618.5 324.1)"/>
<path d="M678.1 271.5 L671.1 267.5" fill="none" stroke="#6f6f6f" stroke-width="0.4"/>
<path d="M679.0 270.6 L678.0 260.6" fill="none" stroke="#6f6f6f" stroke-width="0.4"/>
<path d="M683.6 266.3 L676.6 258.3" fill="none" stroke="#6f6f6f" stroke-width="0.4"/>
<path d="M684.6 265.5 L683.6 253.5" fill="none" stroke="#6f6f6f" stroke-width="0.4"/>
<path d="M690.1 260.3 L684.1 252.3" fill="none" stroke="#6f6f6f" stroke-width="0.4"/>
<path d="M693.8 256.9 L687.8 248.9" fill="none" stroke="#6f6f6f" stroke-width="0.4"/>
<path d="M696.6 254.3 L694.6 245.3" fill="none" stroke="#6f6f6f" stroke-width="0.4"/>
<path d="M702.2 249.2 L695.7 241.2" fill="none" stroke="#6f6f6f" stroke-width="0.4"/>
<path d="M705.9 245.7 L699.4 237.7" fill="none" stroke="#6f6f6f" stroke-width="0.4"/>
<path d="M711.5 240.6 L705.0 232.6" fill="none" stroke="#6f6f6f" stroke-width="0.4"/>
<path d="M715.2 237.2 L708.7 229.2" fill="none" stroke="#6f6f6f" stroke-width="0.4"/>
<path d="M720.7 232.0 L714.2 224.0" fill="none" stroke="#6f6f6f" stroke-width="0.4"/>
<path d="M724.4 228.6 L717.9 220.6" fill="none" stroke="#6f6f6f" stroke-width="0.4"/>
<path d="M729.1 224.3 L724.1 218.3" fill="none" stroke="#6f6f6f" stroke-width="0.4"/>
<path d="M728.3 211.9 L734.0 205.0" fill="none" stroke="#6f6f6f" stroke-width="0.35"/>
<path d="M638.9 296.6 A41 41 0 0 1 676.7 269.2" fill="none" stroke="#7a7a7a" stroke-width="0.4" stroke-dasharray="5 1.5 1 1.5"/>
<path d="M640.5 304.5 L638.0 293.0" fill="none" stroke="#6f6f6f" stroke-width="0.3"/>
<path d="M641.5 304.5 L643.0 294.0" fill="none" stroke="#6f6f6f" stroke-width="0.3"/>
<path d="M754.2 247.6 Q778.3 240.2 801.7 254.2" fill="none" stroke="#7a7a7a" stroke-width="0.4" stroke-dasharray="5 1.5 1 1.5"/>
<path d="M752.0 258.6 Q775.0 270.0 801.7 266.6" fill="none" stroke="#7a7a7a" stroke-width="0.4" stroke-dasharray="5 1.5 1 1.5"/>
<path d="M762.5 249.8 L794.4 254.5" fill="none" stroke="#6f6f6f" stroke-width="0.3"/>
<path d="M762.2 250.0 L761.5 272.0" fill="none" stroke="#6f6f6f" stroke-width="0.4"/>
<path d="M794.4 254.9 L792.2 269.5" fill="none" stroke="#6f6f6f" stroke-width="0.4"/>
<path d="M787.8 254.9 L786.4 293.0" fill="none" stroke="#6f6f6f" stroke-width="0.4"/>
<path d="M779.0 252.0 L773.9 287.1" fill="none" stroke="#6f6f6f" stroke-width="0.35"/>
<path d="M762.2 266.6 A25 26 0 0 0 786.4 293" fill="none" stroke="#6f6f6f" stroke-width="0.4"/>
<text x="775.5" y="264.5" font-size="5.4" textLength="8.0" lengthAdjust="spacingAndGlyphs" fill="#5c5c5c" text-anchor="middle" transform="rotate(-12 775.5 264.5)">900</text>
<text x="779.8" y="270.3" font-size="5.4" textLength="9.5" lengthAdjust="spacingAndGlyphs" fill="#5c5c5c" text-anchor="middle" transform="rotate(-12 779.8 270.3)">1970</text>
<path d="M754.2 258.6 L738.8 330.0" fill="none" stroke="#6f6f6f" stroke-width="0.35"/>
<path d="M749.0 275.4 L741.7 315.0" fill="none" stroke="#6f6f6f" stroke-width="0.3"/>
<path d="M723.4 338.0 L717.6 368.5" fill="none" stroke="#6f6f6f" stroke-width="0.35"/>
<path d="M737.5 340.4 L731.6 370.8" fill="none" stroke="#6f6f6f" stroke-width="0.35"/>
<path d="M777.3 164.1 L790.2 176.2" fill="none" stroke="#6f6f6f" stroke-width="0.35"/>
<path d="M784.3 157.0 L793.2 163.6" fill="none" stroke="#6f6f6f" stroke-width="0.35"/>
<path d="M787.1 155.2 L794.9 161.0" fill="none" stroke="#6f6f6f" stroke-width="0.35"/>
<path d="M758.6 181.6 L777.3 187.5" fill="none" stroke="#6f6f6f" stroke-width="0.3"/>
<path d="M758.6 181.6 Q767.9 188.7 778.5 187.0" fill="none" stroke="#7a7a7a" stroke-width="0.3" stroke-dasharray="3 1.5"/>
<path d="M766.8 174.6 L777.3 187.5" fill="none" stroke="#6f6f6f" stroke-width="0.35"/>
<path d="M835.9 216.1 L849.9 217.9 L842.9 260.1 L830.0 258.2" fill="none" stroke="#6f6f6f" stroke-width="0.4"/>
<path d="M872.8 187.9 L907.9 193.3" fill="none" stroke="#6f6f6f" stroke-width="0.4"/>
<path d="M872.2 193.5 L907.3 199.0" fill="none" stroke="#6f6f6f" stroke-width="0.4"/>
<path d="M871.8 196.0 L907.0 201.5" fill="none" stroke="#6f6f6f" stroke-width="0.35"/>
<path d="M864.6 209.5 L907.5 216.0" fill="none" stroke="#6f6f6f" stroke-width="0.4"/>
<path d="M834.4 216.1 Q880.8 250.4 926.5 229.5" fill="none" stroke="#7a7a7a" stroke-width="0.4" stroke-dasharray="5 1.5 1 1.5"/>
<g transform="translate(814.2 307.0) rotate(10.7)" fill="#fff" stroke="#c4c4c4" stroke-width="0.7"><path d="M-9.6 2 V-3 Q-9.6 -9 0 -9 Q9.6 -9 9.6 -3 V2"/><path d="M-7.6 2 V-3 Q-7.6 -7 0 -7 Q7.6 -7 7.6 -3 V2"/></g>
<g transform="translate(837.3 311.4) rotate(10.7)" fill="#fff" stroke="#c4c4c4" stroke-width="0.7"><path d="M-9.6 2 V-3 Q-9.6 -9 0 -9 Q9.6 -9 9.6 -3 V2"/><path d="M-7.6 2 V-3 Q-7.6 -7 0 -7 Q7.6 -7 7.6 -3 V2"/></g>
<g transform="translate(807.5 335.1) rotate(190.7)" fill="#fff" stroke="#c4c4c4" stroke-width="0.7"><path d="M-9.6 2 V-3 Q-9.6 -9 0 -9 Q9.6 -9 9.6 -3 V2"/><path d="M-7.6 2 V-3 Q-7.6 -7 0 -7 Q7.6 -7 7.6 -3 V2"/></g>
<g transform="translate(830.8 339.3) rotate(190.7)" fill="#fff" stroke="#c4c4c4" stroke-width="0.7"><path d="M-9.6 2 V-3 Q-9.6 -9 0 -9 Q9.6 -9 9.6 -3 V2"/><path d="M-7.6 2 V-3 Q-7.6 -7 0 -7 Q7.6 -7 7.6 -3 V2"/></g>
<g transform="translate(847.2 327.8) rotate(100.7)" fill="#fff" stroke="#c4c4c4" stroke-width="0.7"><path d="M-9.6 2 V-3 Q-9.6 -9 0 -9 Q9.6 -9 9.6 -3 V2"/><path d="M-7.6 2 V-3 Q-7.6 -7 0 -7 Q7.6 -7 7.6 -3 V2"/></g>
<polygon points="798.3,304.0 849.5,313.7 844.9,341.9 793.7,332.6" fill="#fff" stroke="#aaa" stroke-width="0.5"/>
<path d="M823.4 285.0 L810.6 355.0" fill="none" stroke="#777" stroke-width="0.4" stroke-dasharray="5 1.5 1 1.5"/>
<circle cx="902.5" cy="325.8" r="2.6" fill="none" stroke="#666" stroke-width="0.4"/><circle cx="901.4" cy="334.2" r="2.6" fill="none" stroke="#666" stroke-width="0.4"/>
<path d="M899.0 316.5 L915.5 319.5" fill="none" stroke="#6f6f6f" stroke-width="0.35"/>
<path d="M895.5 342.0 L912.0 345.0" fill="none" stroke="#6f6f6f" stroke-width="0.35"/>
<path d="M895.6 360.5 Q896 358.6 898 358.9 L911 361 L907.5 387.4 L892.5 385 Z" fill="#fff" stroke="#555" stroke-width="0.5"/>
<polygon points="894.6,374.6 908.6,376.8 907.3,386.4 893.3,384.2" fill="#aaa" stroke="#777" stroke-width="0.3"/>
<path d="M894.0 372.0 L909.5 374.5" fill="none" stroke="#6f6f6f" stroke-width="0.4"/>
<path d="M912.5 284.0 L893.5 399.0" fill="none" stroke="#888" stroke-width="0.35"/>
<path d="M908.3 291.5 L914.7 291.5" fill="none" stroke="#333" stroke-width="0.4"/>
<path d="M908.7 289.9 L914.3 293.1" fill="none" stroke="#333" stroke-width="0.4"/>
<path d="M909.9 288.7 L913.1 294.3" fill="none" stroke="#333" stroke-width="0.4"/>
<path d="M911.5 288.3 L911.5 294.7" fill="none" stroke="#333" stroke-width="0.4"/>
<path d="M913.1 288.7 L909.9 294.3" fill="none" stroke="#333" stroke-width="0.4"/>
<path d="M914.3 289.9 L908.7 293.1" fill="none" stroke="#333" stroke-width="0.4"/>
<polygon points="939.5,263.9 950.1,266.2 945.4,303.3 936.6,301.3" fill="#fff" stroke="#999" stroke-width="0.35"/>
<path d="M943.3 268.2 L939.5 298.9" fill="none" stroke="#bbb" stroke-width="0.8"/>
<path d="M943.3 288.7 L952.1 277.0" fill="none" stroke="#6f6f6f" stroke-width="0.35"/>
<path d="M941.9 282.9 L949.2 293.1" fill="none" stroke="#6f6f6f" stroke-width="0.35"/>
<polygon points="931.1,335.5 941.3,337.0 939.5,348.7 929.6,346.9" fill="#aaa" stroke="#888" stroke-width="0.3"/>
<path d="M932.2 319.4 L944.8 321.2" fill="none" stroke="#6f6f6f" stroke-width="0.4"/>
<path d="M929.6 331.7 L942.5 333.5" fill="none" stroke="#6f6f6f" stroke-width="0.4"/>
<path d="M927.8 351.0 L940.1 352.7" fill="none" stroke="#6f6f6f" stroke-width="0.4"/>
<path d="M924.9 363.9 L936.6 365.6" fill="none" stroke="#6f6f6f" stroke-width="0.5"/>
<path d="M926.7 356.0 L934.6 356.8" fill="none" stroke="#333" stroke-width="0.5"/>
<path d="M905.3 367.7 L913.2 368.5" fill="none" stroke="#333" stroke-width="0.5"/>
<path d="M918.5 407.1 L930.2 404.8" fill="none" stroke="#6f6f6f" stroke-width="0.3"/>
<path d="M777.3 393.1 Q763.2 411.8 770.3 433.4" fill="none" stroke="#7a7a7a" stroke-width="0.4" stroke-dasharray="5 1.5 1 1.5"/>
<path d="M777.3 393.1 Q775.0 414.2 770.3 433.4" fill="none" stroke="#7a7a7a" stroke-width="0.4" stroke-dasharray="3 1.5"/>
<path d="M806.5 382.5 Q852.1 379.6 901.2 401.6" fill="none" stroke="#7a7a7a" stroke-width="0.4" stroke-dasharray="5 1.5 1 1.5"/>
<path d="M806.5 382.5 L901.2 401.6" fill="none" stroke="#888" stroke-width="0.35"/>
<path d="M804.9 398.2 Q839.0 424.4 896.2 419.0" fill="none" stroke="#7a7a7a" stroke-width="0.4" stroke-dasharray="5 1.5 1 1.5"/>
<path d="M804.9 398.2 L896.2 419.0" fill="none" stroke="#888" stroke-width="0.35"/>
<path d="M796.6 441.4 Q839.7 428.7 889.6 460.5" fill="none" stroke="#7a7a7a" stroke-width="0.4" stroke-dasharray="5 1.5 1 1.5"/>
<path d="M796.6 441.4 L889.6 460.5" fill="none" stroke="#888" stroke-width="0.35"/>
<path d="M804.0 397.4 Q812.7 416.5 796.6 435.6" fill="none" stroke="#7a7a7a" stroke-width="0.4" stroke-dasharray="5 1.5 1 1.5"/>
<path d="M804.0 397.4 Q787.9 416.5 796.6 435.6" fill="none" stroke="#7a7a7a" stroke-width="0.4" stroke-dasharray="5 1.5 1 1.5"/>
<path d="M896.2 419.8 Q880.1 439.9 888.8 459.7" fill="none" stroke="#7a7a7a" stroke-width="0.4" stroke-dasharray="5 1.5 1 1.5"/>
<path d="M896.2 419.8 Q904.9 439.6 888.8 459.7" fill="none" stroke="#7a7a7a" stroke-width="0.4" stroke-dasharray="5 1.5 1 1.5"/>
<path d="M919.5 425.0 Q922.0 445.0 911.0 467.0" fill="none" stroke="#7a7a7a" stroke-width="0.4" stroke-dasharray="5 1.5 1 1.5"/>
<path d="M726.9 397.8 Q714.1 421.2 702.3 446.9" fill="none" stroke="#7a7a7a" stroke-width="0.4" stroke-dasharray="5 1.5 1 1.5"/>
<path d="M726.9 397.8 Q723.4 421.2 718.7 450.0" fill="none" stroke="#7a7a7a" stroke-width="0.4" stroke-dasharray="3 1.5"/>
<path d="M700.0 443.4 Q735.1 439.9 770.3 450.0" fill="none" stroke="#7a7a7a" stroke-width="0.4" stroke-dasharray="5 1.5 1 1.5"/>
<path d="M702.3 444.6 Q738.6 434.1 770.2 445.8" fill="none" stroke="#7a7a7a" stroke-width="0.4" stroke-dasharray="5 1.5 1 1.5"/>
<path d="M702.3 444.6 Q738.6 445.8 770.2 452.8" fill="none" stroke="#7a7a7a" stroke-width="0.4" stroke-dasharray="3 1.5"/>
<path d="M711.6 420.0 Q703.4 431.7 702.3 444.6" fill="none" stroke="#7a7a7a" stroke-width="0.4" stroke-dasharray="5 1.5 1 1.5"/>
<path d="M723.3 420.0 Q715.1 434.1 702.3 444.6" fill="none" stroke="#7a7a7a" stroke-width="0.4" stroke-dasharray="3 1.5"/>
<path d="M770.2 420.0 Q769.0 427.0 772.5 431.7" fill="none" stroke="#7a7a7a" stroke-width="0.4" stroke-dasharray="5 1.5 1 1.5"/>
<path d="M805.3 420.0 Q801.8 429.4 796.7 436.4" fill="none" stroke="#7a7a7a" stroke-width="0.4" stroke-dasharray="5 1.5 1 1.5"/>
<path d="M730.4 457.5 Q731.5 480.9 750.3 489.1" fill="none" stroke="#7a7a7a" stroke-width="0.35"/>
<path d="M742.1 461.0 L741.4 487.9" fill="none" stroke="#6f6f6f" stroke-width="0.35"/>
<path d="M756.1 463.3 L753.8 479.7" fill="none" stroke="#6f6f6f" stroke-width="0.35"/>
<path d="M725.7 455.1 L758.5 462.2" fill="none" stroke="#6f6f6f" stroke-width="0.3"/>
<text x="740.4" y="466.8" font-size="5.4" textLength="8.0" lengthAdjust="spacingAndGlyphs" fill="#5c5c5c" text-anchor="middle" transform="rotate(80 740.4 466.8)">800</text>
<text x="746.1" y="468.7" font-size="5.4" textLength="9.5" lengthAdjust="spacingAndGlyphs" fill="#5c5c5c" text-anchor="middle" transform="rotate(80 746.1 468.7)">1970</text>
<path d="M797.6 476.8 Q824.5 479.2 828.7 457.6" fill="none" stroke="#7a7a7a" stroke-width="0.35"/>
<path d="M797.6 452.3 L796.4 476.8" fill="none" stroke="#6f6f6f" stroke-width="0.35"/>
<path d="M809.3 451.1 L809.3 480.4" fill="none" stroke="#6f6f6f" stroke-width="0.35"/>
<path d="M796.4 476.8 L810.5 478.0" fill="none" stroke="#6f6f6f" stroke-width="0.3"/>
<text x="813.9" y="460.3" font-size="5.4" textLength="8.0" lengthAdjust="spacingAndGlyphs" fill="#5c5c5c" text-anchor="middle" transform="rotate(10 813.9 460.3)">800</text>
<text x="812.9" y="466.3" font-size="5.4" textLength="9.5" lengthAdjust="spacingAndGlyphs" fill="#5c5c5c" text-anchor="middle" transform="rotate(10 812.9 466.3)">1970</text>
<path d="M832.7 462.8 L883.1 473.3 L880.7 485.0 L831.5 475.7 Z" fill="none" stroke="#6f6f6f" stroke-width="0.35"/>
<path d="M832.7 475.7 L839.7 465.1 L847.9 478.0 L855.0 467.5 L863.2 481.1 L870.2 470.3 L879.6 484.3" fill="none" stroke="#6f6f6f" stroke-width="0.35"/>
<path d="M821.0 509.6 L878.4 520.2 L867.8 579.9 L811.6 568.2 Z" fill="none" stroke="#999" stroke-width="0.4"/>
<path d="M883.1 493.2 L893.6 495.1" fill="none" stroke="#6f6f6f" stroke-width="0.35"/>
<path d="M883.1 493.2 L864.3 590.0" fill="none" stroke="#6f6f6f" stroke-width="0.35"/>
<path d="M880.7 502.6 L892.0 504.5" fill="none" stroke="#6f6f6f" stroke-width="0.35"/>
<path d="M877.9 519.0 L889.6 520.9" fill="none" stroke="#6f6f6f" stroke-width="0.35"/>
<path d="M874.9 533.1 L886.6 534.9" fill="none" stroke="#6f6f6f" stroke-width="0.35"/>
<path d="M872.5 548.3 L884.2 549.9" fill="none" stroke="#6f6f6f" stroke-width="0.35"/>
<path d="M870.2 563.5 L881.2 565.4" fill="none" stroke="#6f6f6f" stroke-width="0.35"/>
<path d="M878.4 500.3 L872.5 533.1" fill="none" stroke="#6f6f6f" stroke-width="0.3"/>
<path d="M857.3 563.5 L870.2 564.7 L867.8 575.2 L855.0 573.4 Z" fill="none" stroke="#6f6f6f" stroke-width="0.35"/>
<path d="M857.3 573.4 L869.7 565.2" fill="none" stroke="#6f6f6f" stroke-width="0.3"/>
<path d="M907.7 483.9 L914.7 485.0" fill="none" stroke="#6f6f6f" stroke-width="0.4"/>
<path d="M906.5 482.7 L903.0 512.0 L908.8 512.7" fill="none" stroke="#6f6f6f" stroke-width="0.4"/>
<path d="M911.2 465.1 L917.0 466.3" fill="none" stroke="#6f6f6f" stroke-width="0.35"/>
<path d="M860.7 606.2 L863.1 592.1 L876.0 593.3" fill="none" stroke="#6f6f6f" stroke-width="0.35"/>
<path d="M835.0 603.8 L859.6 607.8 L857.2 619.0" fill="none" stroke="#6f6f6f" stroke-width="0.35"/>
<path d="M835.4 615.5 L858.4 607.8" fill="none" stroke="#6f6f6f" stroke-width="0.3"/>
<path d="M837.3 604.3 L835.4 615.5" fill="none" stroke="#6f6f6f" stroke-width="0.3"/>
<path d="M768.2 601.5 Q802.2 590.9 835.0 610.8" fill="none" stroke="#7a7a7a" stroke-width="0.4" stroke-dasharray="5 1.5 1 1.5"/>
<path d="M784.6 606.2 Q806.8 600.3 826.8 614.4" fill="none" stroke="#7a7a7a" stroke-width="0.4" stroke-dasharray="3 1.5"/>
<path d="M782.3 622.6 L823.2 629.6" fill="none" stroke="#6f6f6f" stroke-width="0.4"/>
<path d="M785.8 623.7 L784.6 637.8" fill="none" stroke="#6f6f6f" stroke-width="0.4"/>
<path d="M817.4 628.9 L815.0 643.6" fill="none" stroke="#6f6f6f" stroke-width="0.4"/>
<path d="M785.3 630.8 L816.2 636.1" fill="none" stroke="#6f6f6f" stroke-width="0.4"/>
<path d="M784.8 633.1 L815.8 638.5" fill="none" stroke="#6f6f6f" stroke-width="0.35"/>
<path d="M784.6 637.8 L815.0 643.6" fill="none" stroke="#6f6f6f" stroke-width="0.4"/>
<path d="M879.9 623.7 L889.3 625.6" fill="none" stroke="#6f6f6f" stroke-width="0.3"/>
<g transform="translate(693.6 495) rotate(25.5)"><rect x="-11.5" y="-28.5" width="23" height="57" fill="#fff" stroke="#666" stroke-width="0.5"/><rect x="-9" y="-26" width="18" height="52" rx="5" fill="none" stroke="#777" stroke-width="0.4"/><rect x="-10.3" y="-27.3" width="20.6" height="54.6" rx="2" fill="none" stroke="#999" stroke-width="0.3"/><circle cx="0" cy="-19" r="0.8" fill="#777"/></g>
<path d="M684.4 488.9 L692.3 491.5" fill="none" stroke="#6f6f6f" stroke-width="0.4"/>
<path d="M690.5 488.9 L691.4 493.3" fill="none" stroke="#6f6f6f" stroke-width="0.4"/>
<ellipse cx="676" cy="531.5" rx="5.2" ry="4.2" fill="#fff" stroke="#555" stroke-width="0.45" transform="rotate(25 676 531.5)"/><ellipse cx="676.8" cy="531.9" rx="3.1" ry="2.5" fill="none" stroke="#666" stroke-width="0.35" transform="rotate(25 676.8 531.9)"/>
<path d="M667.7 521.4 L663.3 531.1 L669.4 533.7" fill="none" stroke="#6f6f6f" stroke-width="0.4"/>
<path d="M680.0 473.1 L688.8 472.2" fill="none" stroke="#6f6f6f" stroke-width="0.3"/>
<path d="M688.8 472.2 L669.4 513.5" fill="none" stroke="#6f6f6f" stroke-width="0.35"/>
<path d="M667.7 481.8 L647.5 524.0" fill="none" stroke="#6f6f6f" stroke-width="0.4"/>
<path d="M662.5 478.8 L642.0 522.0" fill="none" stroke="#6f6f6f" stroke-width="0.3"/>
<path d="M658.9 486.2 L646.6 512.6" fill="none" stroke="#999" stroke-width="0.9"/>
<path d="M642.5 467.3 L652.7 488.0" fill="none" stroke="#6f6f6f" stroke-width="0.4"/>
<path d="M621.1 510.8 L643.1 504.7" fill="none" stroke="#6f6f6f" stroke-width="0.4"/>
<polygon points="744.4,504.8 756.1,506.7 750.3,541.8 738.6,539.5" fill="#fff" stroke="#555" stroke-width="0.45"/>
<polygon points="745.8,507.1 754.5,508.5 752.6,521.2 743.7,519.8" fill="#fff" stroke="#666" stroke-width="0.4"/>
<polygon points="742.8,524.9 751.7,526.3 749.8,539.0 740.9,537.6" fill="#fff" stroke="#666" stroke-width="0.4"/>
<path d="M749.1 514.9 L755.4 515.8" fill="none" stroke="#333" stroke-width="0.5"/>
<path d="M746.3 532.9 L752.6 533.8" fill="none" stroke="#333" stroke-width="0.5"/>
<path d="M759.6 479.7 L755.0 502.0" fill="none" stroke="#6f6f6f" stroke-width="0.5"/>
<circle cx="754.8" cy="502.5" r="0.9" fill="none" stroke="#555" stroke-width="0.3"/>
<path d="M738.6 539.5 L732.7 569.9" fill="none" stroke="#6f6f6f" stroke-width="0.4"/>
<path d="M750.3 541.8 L745.6 572.3" fill="none" stroke="#6f6f6f" stroke-width="0.3"/>
<polygon points="726.6,573.2 745.3,576.7 741.8,595.4 723.1,591.9" fill="#fff" stroke="#555" stroke-width="0.45"/>
<path d="M726.6 573.2 L741.8 595.4" fill="none" stroke="#6f6f6f" stroke-width="0.3"/>
<path d="M745.3 576.7 L723.1 591.9" fill="none" stroke="#6f6f6f" stroke-width="0.3"/>
<polygon points="728.2,575.0 743.4,578.1 740.4,593.5 724.9,590.5" fill="none" stroke="#777" stroke-width="0.3"/>
<path d="M751.2 543.4 L762.9 580.2" fill="none" stroke="#6f6f6f" stroke-width="0.3"/>
<path d="M767.6 546.2 L746.5 576.7" fill="none" stroke="#6f6f6f" stroke-width="0.3"/>
<path d="M751.2 543.9 Q737.1 560.3 744.2 575.5" fill="none" stroke="#7a7a7a" stroke-width="0.4" stroke-dasharray="5 1.5 1 1.5"/>
<polygon points="651.6,543.9 681.4,554.4 675.0,570.8 639.9,565.0" fill="#fff" stroke="#555" stroke-width="0.45"/>
<polygon points="638.7,569.6 644.6,565.4 670.4,577.8" fill="#666" stroke="#444" stroke-width="0.3"/>
<path d="M648.1 568.5 Q690.3 565.0 724.2 586.0" fill="none" stroke="#7a7a7a" stroke-width="0.4" stroke-dasharray="5 1.5 1 1.5"/>
<path d="M672.7 579.0 Q695.0 574.3 710.2 589.6" fill="none" stroke="#7a7a7a" stroke-width="0.4" stroke-dasharray="3 1.5"/>
<path d="M671.5 579.0 L710.2 589.6" fill="none" stroke="#6f6f6f" stroke-width="0.3"/>
<path d="M672.0 586.0 L708.5 594.2" fill="none" stroke="#6f6f6f" stroke-width="0.35"/>
<path d="M671.1 596.6 L705.5 604.3" fill="none" stroke="#6f6f6f" stroke-width="0.35"/>
<path d="M670.4 602.4 L703.9 609.9" fill="none" stroke="#6f6f6f" stroke-width="0.4"/>
<path d="M669.7 606.0 L702.5 614.2" fill="none" stroke="#6f6f6f" stroke-width="0.4"/>
<path d="M669.2 609.5 L700.8 617.7" fill="none" stroke="#6f6f6f" stroke-width="0.4"/>
<text x="774.8" y="582.3" font-size="38" fill="#ffffff" fill-opacity="0.5" stroke="#f1f1f1" stroke-width="0.4" textLength="116" lengthAdjust="spacingAndGlyphs">JUSTO</text>
</g>
</svg>
</body></html>
